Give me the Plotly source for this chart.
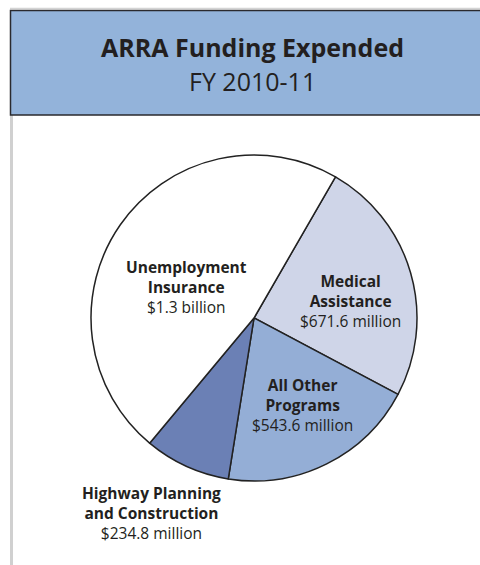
import plotly.graph_objects as go

W, H = 480, 565

# Data (millions of dollars)
categories = ["Medical Assistance", "All Other Programs", "Highway Planning and Construction", "Unemployment Insurance"]
values = [671.6, 543.6, 234.8, 1300.0]
value_labels = ["$671.6 million", "$543.6 million", "$234.8 million", "$1.3 billion"]
label_lines = [["Medical", "Assistance"], ["All Other", "Programs"], ["Highway Planning", "and Construction"], ["Unemployment", "Insurance"]]
colors = ["#cfd5e8", "#94aed6", "#6b80b5", "#ffffff"]

title_main = "ARRA Funding Expended"
title_sub = "FY 2010-11"

# label anchor positions in pixels (x, y centre)
label_pos = [(350, 301), (302, 405), (151, 513), (186, 287)]

FONT = "Open Sans"

cx, cy, r = 254, 318, 163

fig = go.Figure(go.Pie(
    labels=categories,
    values=values,
    sort=False,
    direction="clockwise",
    rotation=30,
    marker=dict(colors=colors, line=dict(color="#222222", width=1.5)),
    textinfo="none",
    hoverinfo="label+value",
    showlegend=False,
    domain=dict(x=[(cx - r) / W, (cx + r) / W], y=[1 - (cy + r) / H, 1 - (cy - r) / H]),
))

annotations = []
for lines, val, (px, py) in zip(label_lines, value_labels, label_pos):
    txt = "<br>".join("<b>%s</b>" % l for l in lines) + "<br>" + val
    annotations.append(dict(
        x=px / W, y=1 - py / H, xref="paper", yref="paper",
        text=txt, showarrow=False, xanchor="center", yanchor="middle",
        font=dict(family=FONT, size=15.5, color="#231f20"), align="center",
    ))

annotations.append(dict(x=252 / W, y=1 - 47 / H, xref="paper", yref="paper",
                        text="<b>%s</b>" % title_main, showarrow=False,
                        xanchor="center", yanchor="middle",
                        font=dict(family=FONT, size=25, color="#231f20")))
annotations.append(dict(x=252 / W, y=1 - 81 / H, xref="paper", yref="paper",
                        text=title_sub, showarrow=False,
                        xanchor="center", yanchor="middle",
                        font=dict(family=FONT, size=25, color="#231f20")))

shapes = [
    # light gray top line
    dict(type="line", xref="paper", yref="paper", x0=10 / W, x1=1.0, y0=1 - 8.5 / H, y1=1 - 8.5 / H,
         line=dict(color="#d4d4d4", width=1.5)),
    # left gray strip
    dict(type="line", xref="paper", yref="paper", x0=11.5 / W, x1=11.5 / W, y0=0, y1=1 - 115 / H,
         line=dict(color="#d0d0d0", width=3)),
    # header box
    dict(type="rect", xref="paper", yref="paper", x0=10.5 / W, x1=1.02, y0=1 - 115 / H, y1=1 - 10.5 / H,
         fillcolor="#93b3da", line=dict(color="#2a2a2e", width=1.5)),
]

fig.update_layout(
    width=W, height=H,
    margin=dict(l=0, r=0, t=0, b=0),
    paper_bgcolor="white", plot_bgcolor="white",
    annotations=annotations, shapes=shapes,
)

fig.write_html("out.html")
